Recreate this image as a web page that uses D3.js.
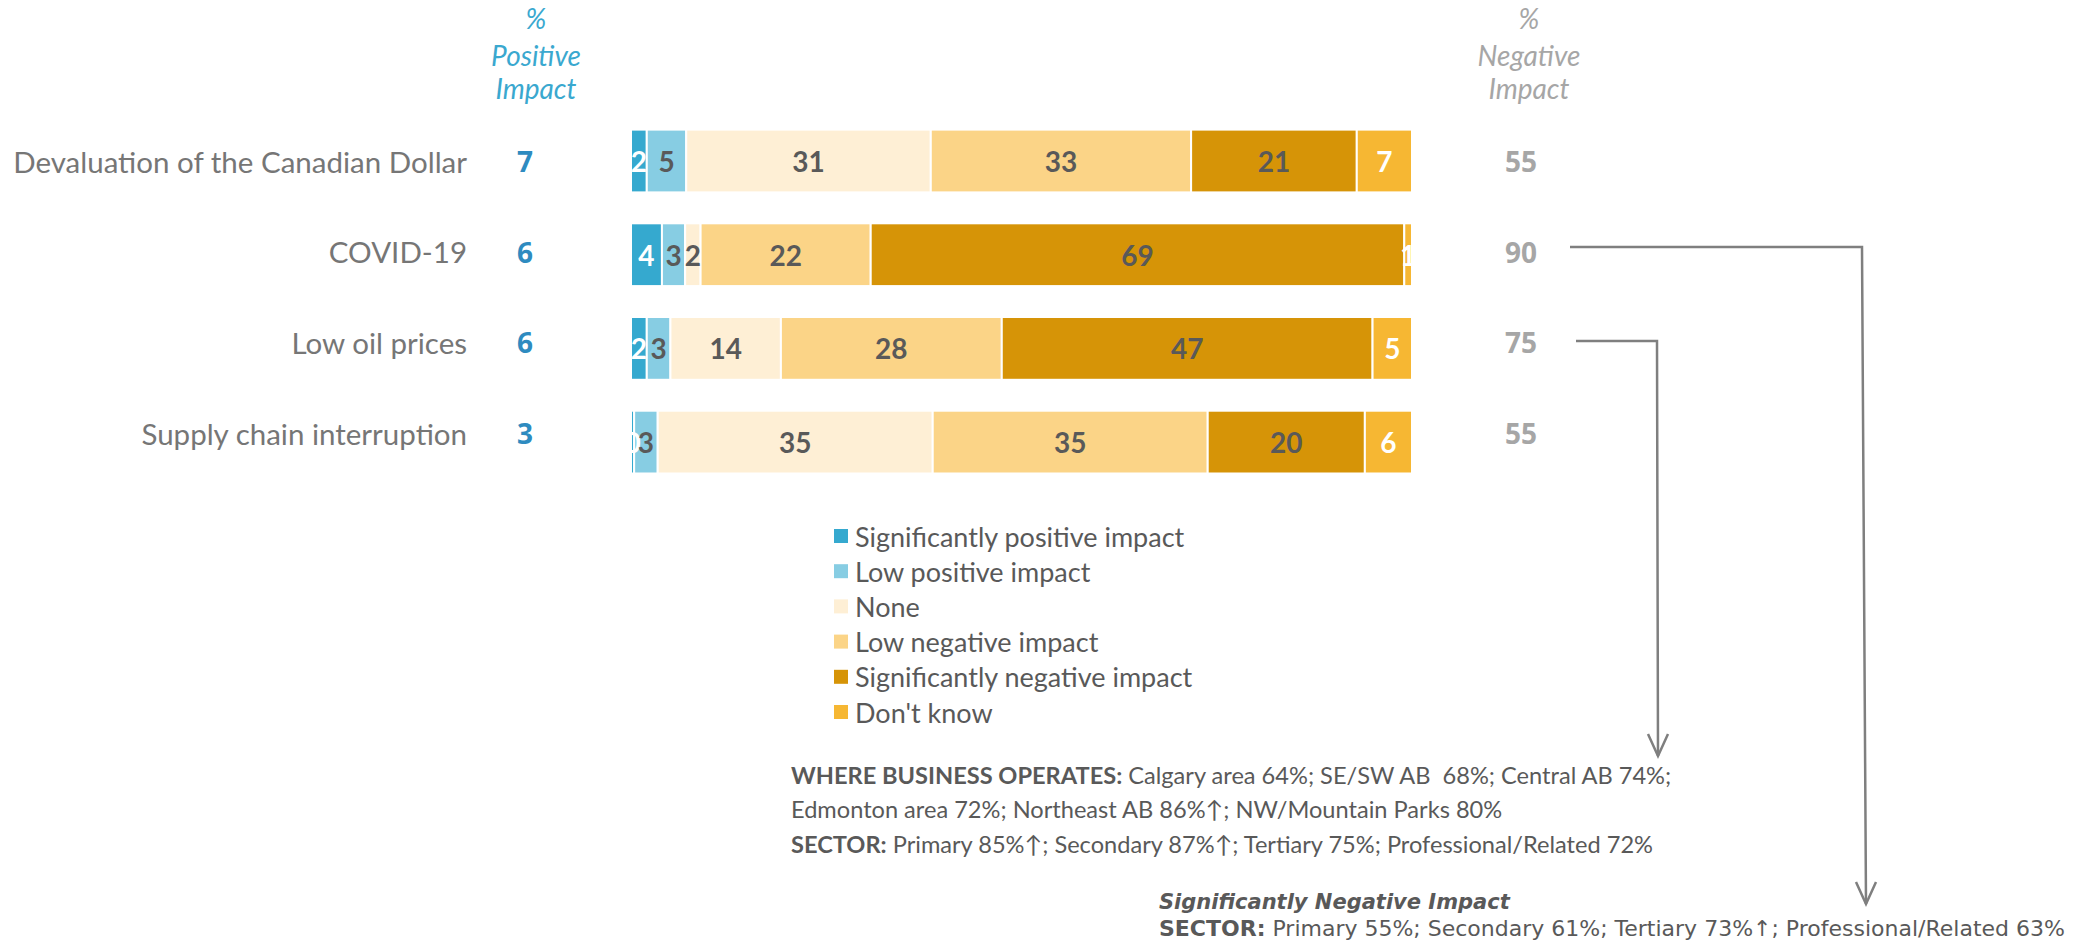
<!DOCTYPE html>
<html>
<head>
<meta charset="utf-8">
<script src="https://cdn.jsdelivr.net/npm/d3@7"></script>
<style>
  html, body { margin: 0; padding: 0; background: #ffffff; }
  svg { display: block; }
  text { white-space: pre; }
</style>
</head>
<body>
<svg id="chart" width="2091" height="942"></svg>
<script>
// Impact factors (rows, top to bottom)
const categories = [
  "Devaluation of the Canadian Dollar",
  "COVID-19",
  "Low oil prices",
  "Supply chain interruption"
];

// Response categories (stack order, left to right)
const seriesNames = [
  "Significantly positive impact",
  "Low positive impact",
  "None",
  "Low negative impact",
  "Significantly negative impact",
  "Don't know"
];

// Percent of respondents per response, one array per response category
const sigPositive = [2, 4, 2, 0.4];
const lowPositive = [5, 3, 3, 3];
const noneImpact  = [31, 2, 14, 35];
const lowNegative = [33, 22, 28, 35];
const sigNegative = [21, 69, 47, 20];
const dontKnow    = [7, 1, 5, 6];

// Net totals shown beside each bar
const positiveTotals = [7, 6, 6, 3];
const negativeTotals = [55, 90, 75, 55];

const colors = ["#35a9cf", "#87cde3", "#feefd5", "#fbd487", "#d69407", "#f6b733"];
const labelColors = ["#ffffff", "#595959", "#595959", "#595959", "#595959", "#ffffff"];

const seriesValues = [sigPositive, lowPositive, noneImpact, lowNegative, sigNegative, dontKnow];
const rows = categories.map((c, i) => {
  const r = { category: c };
  seriesNames.forEach((s, j) => { r[s] = seriesValues[j][i]; });
  return r;
});

const svg = d3.select("#chart");
const bodyFont = "Lato, 'Open Sans', sans-serif";
const numFont = "'Open Sans', Lato, sans-serif";
const wideFont = "'DejaVu Sans', 'Open Sans', sans-serif";

// Scales: 100% stacked horizontal bars
const x = d3.scaleLinear().domain([0, 1]).range([631, 1412]);
const y = d3.scaleBand().domain(categories)
  .range([114.15, 114.15 + 4 * 93.7])
  .paddingInner(0.33).paddingOuter(0.165);
// Row text (labels and totals) sits on its own slightly tighter grid
const yText = d3.scalePoint().domain(categories).range([161, 433]);

const stack = d3.stack().keys(seriesNames).offset(d3.stackOffsetExpand);
const stacked = stack(rows);

const layers = svg.append("g").attr("class", "bars")
  .selectAll("g").data(stacked).join("g")
  .attr("fill", (d, i) => colors[i]);

layers.selectAll("rect").data(d => d).join("rect")
  .attr("x", d => x(d[0]))
  .attr("y", d => y(d.data.category))
  .attr("width", d => Math.max(0, x(d[1]) - x(d[0])))
  .attr("height", y.bandwidth())
  .attr("stroke", "#ffffff")
  .attr("stroke-width", 2);

// Segment value labels
const fmt = d3.format(".0f");
const labelLayers = svg.append("g").attr("class", "seg-labels")
  .selectAll("g").data(stacked).join("g")
  .attr("fill", (d, i) => labelColors[i]);

labelLayers.selectAll("text").data(d => d.map(p => ({ p, key: d.key }))).join("text")
  .attr("x", d => (x(d.p[0]) + x(d.p[1])) / 2)
  .attr("y", d => y(d.p.data.category) + y.bandwidth() / 2)
  .attr("text-anchor", "middle")
  .attr("dominant-baseline", "central")
  .attr("font-family", bodyFont)
  .attr("font-weight", 700)
  .attr("font-size", 28)
  .text(d => fmt(d.p.data[d.key]));

// Row labels
svg.append("g").selectAll("text").data(categories).join("text")
  .attr("x", 467)
  .attr("y", d => yText(d))
  .attr("text-anchor", "end")
  .attr("dominant-baseline", "central")
  .attr("font-family", bodyFont)
  .attr("font-size", 29.5)
  .attr("fill", "#767676")
  .text(d => d);

// Positive / negative totals
svg.append("g").selectAll("text").data(positiveTotals).join("text")
  .attr("x", 525)
  .attr("y", (d, i) => yText(categories[i]))
  .attr("text-anchor", "middle")
  .attr("dominant-baseline", "central")
  .attr("font-family", numFont)
  .attr("font-weight", 700)
  .attr("font-size", 28)
  .attr("fill", "#2e8bc0")
  .text(d => d);

svg.append("g").selectAll("text").data(negativeTotals).join("text")
  .attr("x", 1521)
  .attr("y", (d, i) => yText(categories[i]))
  .attr("text-anchor", "middle")
  .attr("dominant-baseline", "central")
  .attr("font-family", numFont)
  .attr("font-weight", 700)
  .attr("font-size", 28)
  .attr("fill", "#a6a6a6")
  .text(d => d);

// Column headers
function header(cx, color, lines) {
  svg.append("g").selectAll("text").data(lines).join("text")
    .attr("x", cx)
    .attr("y", (d, i) => [18, 55, 88][i])
    .attr("text-anchor", "middle")
    .attr("dominant-baseline", "central")
    .attr("font-family", bodyFont)
    .attr("font-style", "italic")
    .attr("font-size", 28)
    .attr("fill", color)
    .text(d => d);
}
header(536, "#3aa8cf", ["%", "Positive", "Impact"]);
header(1529, "#a6a6a6", ["%", "Negative", "Impact"]);

// Legend
const legend = svg.append("g").attr("class", "legend")
  .selectAll("g").data(seriesNames).join("g")
  .attr("transform", (d, i) => `translate(834, ${536 + i * 35.2})`);
legend.append("rect")
  .attr("x", 0).attr("y", -7).attr("width", 14).attr("height", 14)
  .attr("fill", (d, i) => colors[i]);
legend.append("text")
  .attr("x", 21).attr("y", 0)
  .attr("dominant-baseline", "central")
  .attr("font-family", bodyFont)
  .attr("font-size", 27)
  .attr("fill", "#595959")
  .text(d => d);

// Callout arrows
const arrowColor = "#7f7f7f";
function callout(points) {
  svg.append("path")
    .attr("d", d3.line()(points))
    .attr("fill", "none")
    .attr("stroke", arrowColor)
    .attr("stroke-width", 2.5);
  const tip = points[points.length - 1];
  svg.append("path")
    .attr("d", d3.line()([[tip[0] - 10, tip[1] - 22], tip, [tip[0] + 10, tip[1] - 22]]))
    .attr("fill", "none")
    .attr("stroke", arrowColor)
    .attr("stroke-width", 2.5);
}
callout([[1576, 341], [1657, 341], [1658, 756]]);
callout([[1570, 247], [1862, 247], [1866, 904]]);

// Callout notes
function note(xPos, yPos, parts, family, size, spacing) {
  const t = svg.append("text")
    .attr("x", xPos).attr("y", yPos)
    .attr("dominant-baseline", "central")
    .attr("font-family", family)
    .attr("font-size", size)
    .attr("letter-spacing", spacing || 0)
    .attr("fill", "#595959");
  parts.forEach(p => {
    t.append("tspan")
      .attr("font-weight", p.bold ? 700 : 400)
      .attr("font-style", p.italic ? "italic" : "normal")
      .text(p.text);
  });
}
note(791, 775, [{ text: "WHERE BUSINESS OPERATES:", bold: true },
  { text: " Calgary area 64%; SE/SW AB  68%; Central AB 74%;" }], bodyFont, 23.6);
note(791, 809, [{ text: "Edmonton area 72%; Northeast AB 86%\u2191; NW/Mountain Parks 80%" }], bodyFont, 23.6);
note(791, 844, [{ text: "SECTOR:", bold: true },
  { text: " Primary 85%\u2191; Secondary 87%\u2191; Tertiary 75%; Professional/Related 72%" }], bodyFont, 23.6);

note(1159, 902, [{ text: "Significantly Negative Impact", bold: true, italic: true }], wideFont, 21);
note(1159, 928, [{ text: "SECTOR:", bold: true },
  { text: " Primary 55%; Secondary 61%; Tertiary 73%\u2191; Professional/Related 63%" }], wideFont, 22);
</script>
</body>
</html>
